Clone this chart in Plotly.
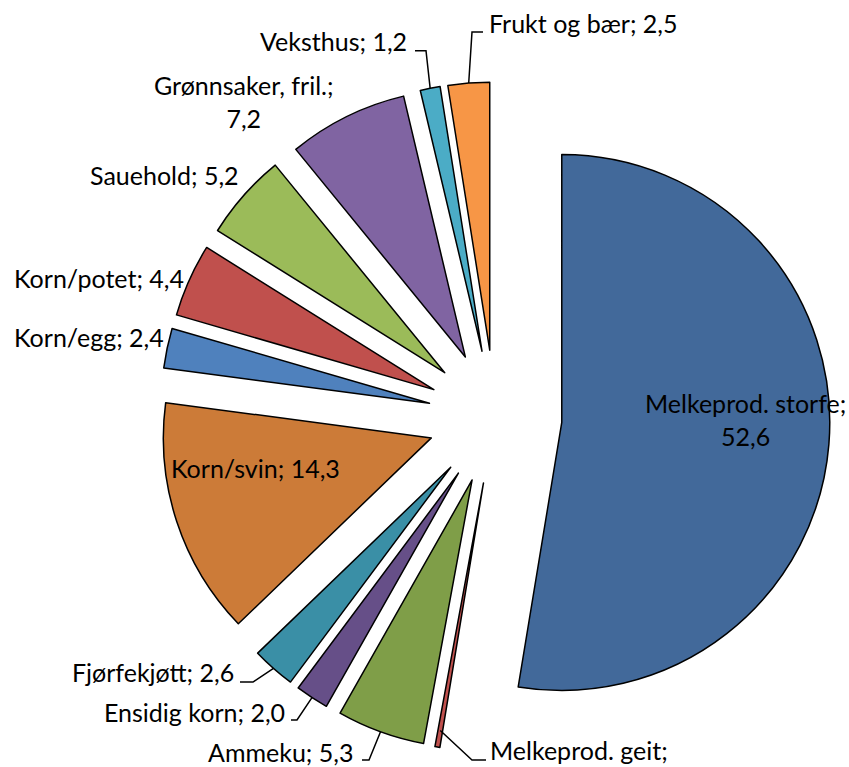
import math
import plotly.graph_objects as go

# ---- data ----
categories = ["Melkeprod. storfe", "Melkeprod. geit", "Ammeku", "Ensidig korn",
              "Fjørfekjøtt", "Korn/svin", "Korn/egg", "Korn/potet", "Sauehold",
              "Grønnsaker, fril.", "Veksthus", "Frukt og bær"]
values = [52.6, 0.3, 5.3, 2.0, 2.6, 14.3, 2.4, 4.4, 5.2, 7.2, 1.2, 2.5]
value_labels = ["52,6", "0,3", "5,3", "2,0", "2,6", "14,3", "2,4", "4,4", "5,2", "7,2", "1,2", "2,5"]

# ---- style ----
colors = ["#42699A", "#C0504D", "#7F9E48", "#664F88", "#3A8FA6", "#CC7B38",
          "#4F81BD", "#C0504D", "#9BBB59", "#8064A2", "#4BACC6", "#F79646"]
W, H = 849, 767
PULL = 0.25
dom_x = [160 / W, 830 / W]
dom_y = [1 - 752 / H, 1 - 82 / H]
FONT = dict(family="Lato, 'Open Sans', sans-serif", size=25, color="black")

# label layout (pixel placement of the text labels and leader stubs)
label_layout = [
    dict(br=True,  x=745, base=413, xa="center", stub=None),
    dict(br=True,  x=488, base=760, xa="left",   stub=(486, 472, 760), rf=0.95),
    dict(br=False, x=355, base=762, xa="right",  stub=(362, 369, 760), rf=1.0),
    dict(br=False, x=287, base=722, xa="right",  stub=(291, 297, 720), rf=1.0),
    dict(br=False, x=236, base=682, xa="right",  stub=(240, 253, 682), rf=1.0),
    dict(br=False, x=256, base=478, xa="center", stub=None),
    dict(br=False, x=12,  base=347, xa="left",   stub=None),
    dict(br=False, x=12,  base=288, xa="left",   stub=None),
    dict(br=False, x=88,  base=185, xa="left",   stub=None),
    dict(br=True,  x=244, base=95,  xa="center", stub=None),
    dict(br=False, x=409, base=51,  xa="right",  stub=(415, 426, 50.7), rf=1.0),
    dict(br=False, x=487, base=33,  xa="left",   stub=(483, 472, 32), rf=1.0),
]

fig = go.Figure(go.Pie(
    labels=categories, values=values, sort=False, direction="clockwise", rotation=0,
    pull=[PULL] * len(values),
    marker=dict(colors=colors, line=dict(color="black", width=1.5)),
    textinfo="none", hoverinfo="label+value", showlegend=False,
    domain=dict(x=dom_x, y=dom_y),
))

# geometry derived the same way plotly does
cx = W * (dom_x[0] + dom_x[1]) / 2
cy = H * (1 - (dom_y[0] + dom_y[1]) / 2)
r = min(W * (dom_x[1] - dom_x[0]), H * (dom_y[1] - dom_y[0])) / 2 / (1 + PULL)
total = sum(values)

def px(x):
    return x / W

def py(y):
    return 1 - y / H

annotations = []
shapes = []
cum = 0
for cat, v, vl, lay in zip(categories, values, value_labels, label_layout):
    mid = (cum + v / 2) / total * 2 * math.pi
    cum += v
    sep = "<br>" if lay["br"] else " "
    text = f"{cat};{sep}{vl}"
    fs = FONT["size"]
    if lay["br"]:
        ymid = lay["base"] + 0.65 * fs - 0.387 * fs
    else:
        ymid = lay["base"] - 0.387 * fs
    annotations.append(dict(
        x=px(lay["x"]), y=py(ymid), xref="paper", yref="paper", text=text,
        showarrow=False, xanchor=lay["xa"], yanchor="middle", align="center", font=FONT,
    ))
    if lay["stub"]:
        xs, xe, ys = lay["stub"]
        dist = r * (1 + PULL) * lay.get("rf", 1.0)
        ax = cx + dist * math.sin(mid)
        ay = cy - dist * math.cos(mid)
        path = f"M {px(xs)} {py(ys)} L {px(xe)} {py(ys)} L {px(ax)} {py(ay)}"
        shapes.append(dict(type="path", path=path, xref="paper", yref="paper",
                           line=dict(color="black", width=1.5)))

fig.update_layout(
    width=W, height=H, margin=dict(l=0, r=0, t=0, b=0),
    paper_bgcolor="white", plot_bgcolor="white",
    annotations=annotations, shapes=shapes,
)
fig.write_html("out.html", config={"displayModeBar": False},
               post_script="document.body.style.margin='0';document.body.style.overflow='hidden';")
